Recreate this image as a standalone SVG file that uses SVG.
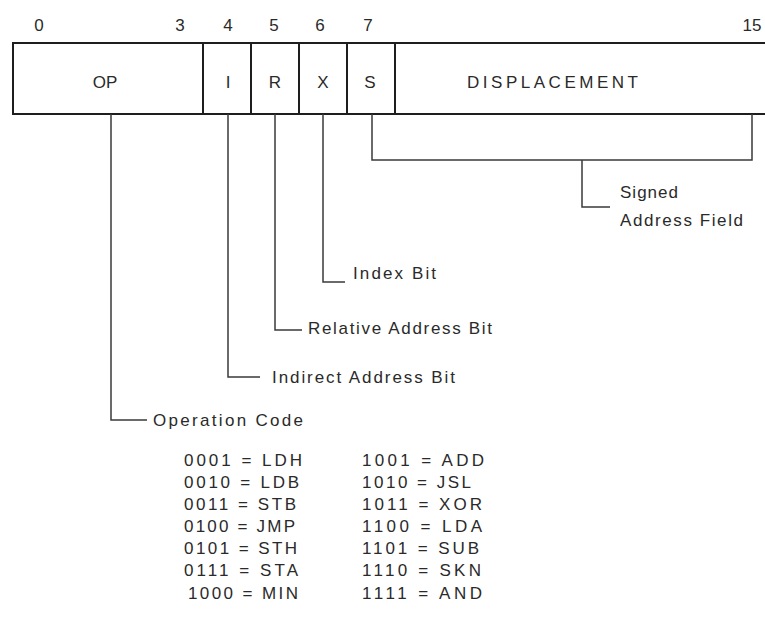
<svg xmlns="http://www.w3.org/2000/svg" width="765" height="622" viewBox="0 0 765 622">
<style>
text{font-family:"Liberation Sans","DejaVu Sans",sans-serif;font-size:17px;fill:#2a2a2a}
.c{text-anchor:middle}
.box{fill:none;stroke:#1e1e1e;stroke-width:2}
.ln{fill:none;stroke:#3a3a3a;stroke-width:1.5}
</style>
<rect width="765" height="622" fill="#ffffff"/>
<g id="bit-numbers">
<text class="c" x="39" y="31">0</text>
<text class="c" x="180" y="31">3</text>
<text class="c" x="228" y="31">4</text>
<text class="c" x="274" y="31">5</text>
<text class="c" x="320" y="31">6</text>
<text class="c" x="368" y="31">7</text>
<text class="c" x="752" y="31" textLength="19" lengthAdjust="spacing">15</text>
</g>
<g id="word">
<path class="box" d="M765 43 H13 V114 H765"/>
<path class="box" d="M203 43 V114 M251 43 V114 M299 43 V114 M347 43 V114 M395 43 V114"/>
</g>
<g id="field-op"><text class="c" x="105" y="88">OP</text></g>
<g id="field-i"><text class="c" x="228" y="88">I</text></g>
<g id="field-r"><text class="c" x="275" y="88">R</text></g>
<g id="field-x"><text class="c" x="323" y="88">X</text></g>
<g id="field-s"><text class="c" x="370" y="88">S</text></g>
<g id="field-disp"><text x="467" y="88" textLength="171" lengthAdjust="spacing">DISPLACEMENT</text></g>
<g id="connectors">
<path class="ln" d="M111 114 V420 H147"/>
<path class="ln" d="M228 114 V377 H260"/>
<path class="ln" d="M275 114 V330 H302"/>
<path class="ln" d="M323 114 V282 H345"/>
<path class="ln" d="M372 114 V160 H752 V114"/>
<path class="ln" d="M582 160 V207 H610"/>
</g>
<g id="label-signed">
<text x="620" y="198" textLength="58" lengthAdjust="spacing">Signed</text>
<text x="620" y="226" textLength="123" lengthAdjust="spacing">Address Field</text>
</g>
<g id="label-index"><text x="353" y="279" textLength="83" lengthAdjust="spacing">Index Bit</text></g>
<g id="label-relative"><text x="308" y="334" textLength="184" lengthAdjust="spacing">Relative Address Bit</text></g>
<g id="label-indirect"><text x="272" y="383" textLength="183" lengthAdjust="spacing">Indirect Address Bit</text></g>
<g id="label-opcode">
<text x="153" y="426" textLength="150" lengthAdjust="spacing">Operation Code</text>
<text x="184" y="466" textLength="118" lengthAdjust="spacing">0001 = LDH</text>
<text x="184" y="488" textLength="115" lengthAdjust="spacing">0010 = LDB</text>
<text x="184" y="510" textLength="112" lengthAdjust="spacing">0011 = STB</text>
<text x="184" y="532" textLength="111" lengthAdjust="spacing">0100 = JMP</text>
<text x="184" y="554" textLength="113" lengthAdjust="spacing">0101 = STH</text>
<text x="184" y="576" textLength="114" lengthAdjust="spacing">0111 = STA</text>
<text x="188" y="599" textLength="110" lengthAdjust="spacing">1000 = MIN</text>
<text x="362" y="466" textLength="122" lengthAdjust="spacing">1001 = ADD</text>
<text x="362" y="488" textLength="109" lengthAdjust="spacing">1010 = JSL</text>
<text x="362" y="510" textLength="120" lengthAdjust="spacing">1011 = XOR</text>
<text x="362" y="532" textLength="120" lengthAdjust="spacing">1100 = LDA</text>
<text x="362" y="554" textLength="117" lengthAdjust="spacing">1101 = SUB</text>
<text x="362" y="576" textLength="119" lengthAdjust="spacing">1110 = SKN</text>
<text x="362" y="599" textLength="120" lengthAdjust="spacing">1111 = AND</text>
</g>
</svg>
